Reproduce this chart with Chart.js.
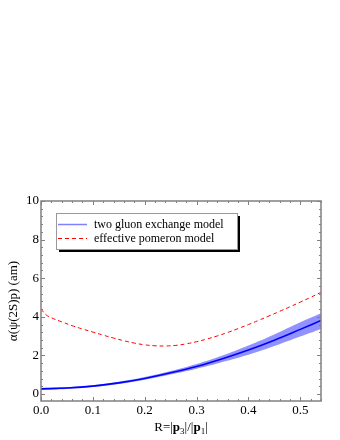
<!DOCTYPE html>
<html>
<head>
<meta charset="utf-8">
<script src="https://cdn.jsdelivr.net/npm/chart.js@4.4.1/dist/chart.umd.min.js"></script>
<style>
  html, body { margin: 0; padding: 0; background: #fff; }
  #wrap { width: 340px; height: 440px; }
</style>
</head>
<body>
<div id="wrap"><canvas id="chart" width="340" height="440"></canvas></div>
<script>
"use strict";

// two gluon exchange model (central curve + uncertainty band)
const gluonR = [0, 0.05, 0.1, 0.15, 0.2, 0.25, 0.3, 0.35, 0.4, 0.45, 0.5, 0.54];
const gluonMid = [0.27, 0.31, 0.41, 0.58, 0.81, 1.1, 1.43, 1.83, 2.28, 2.79, 3.35, 3.81];
const gluonLow = [0.22, 0.26, 0.36, 0.52, 0.74, 1.01, 1.31, 1.66, 2.04, 2.49, 2.98, 3.37];
const gluonHigh = [0.31, 0.36, 0.46, 0.64, 0.88, 1.19, 1.56, 2.0, 2.52, 3.09, 3.72, 4.19];

// effective pomeron model
const pomR = [0, 0.01, 0.02, 0.04, 0.06, 0.08, 0.1, 0.12, 0.14, 0.16, 0.18, 0.2, 0.22, 0.24,
  0.26, 0.28, 0.3, 0.32, 0.34, 0.36, 0.38, 0.4, 0.42, 0.44, 0.46, 0.48, 0.5, 0.52, 0.54];
const pomVal = [4.4, 4.1, 3.95, 3.74, 3.54, 3.37, 3.21, 3.05, 2.9, 2.76, 2.64, 2.55, 2.5, 2.49,
  2.52, 2.6, 2.71, 2.85, 3.01, 3.19, 3.39, 3.6, 3.82, 4.05, 4.28, 4.52, 4.76, 5.01, 5.27];

const xTicks = [0, 0.1, 0.2, 0.3, 0.4, 0.5];
const yTicks = [0, 2, 4, 6, 8, 10];
const xTickLabels = ["0.0", "0.1", "0.2", "0.3", "0.4", "0.5"];

const serif = "'Liberation Serif', 'DejaVu Serif', serif";

function pairs(xs, ys) {
  return xs.map((x, i) => ({ x: x, y: ys[i] }));
}

// frame with inward ticks, legend and axis titles
const framePlugin = {
  id: "frame",
  afterDraw(chart) {
    const ctx = chart.ctx;
    const a = chart.chartArea;
    const xs = chart.scales.x;
    const ys = chart.scales.y;
    ctx.save();
    ctx.strokeStyle = "#808080";
    ctx.lineWidth = 1.5;
    ctx.strokeRect(a.left, a.top, a.right - a.left, a.bottom - a.top);

    ctx.lineWidth = 1;
    ctx.beginPath();
    for (let i = 0; i <= 27; i++) {
      const v = i * 0.02;
      const px = Math.round(xs.getPixelForValue(v)) + 0.5;
      const len = (i % 5 === 0) ? 4 : 2;
      ctx.moveTo(px, a.bottom); ctx.lineTo(px, a.bottom - len);
      ctx.moveTo(px, a.top); ctx.lineTo(px, a.top + len);
    }
    for (let i = 0; i <= 25; i++) {
      const v = i * 0.4;
      const py = Math.round(ys.getPixelForValue(v)) + 0.5;
      const len = (i % 5 === 0) ? 4 : 2;
      ctx.moveTo(a.left, py); ctx.lineTo(a.left + len, py);
      ctx.moveTo(a.right, py); ctx.lineTo(a.right - len, py);
    }
    ctx.stroke();

    // legend box with shadow
    const bx = 56, by = 213, bw = 181, bh = 36;
    ctx.fillStyle = "#000";
    ctx.fillRect(bx + 3, by + 3, bw, bh);
    ctx.fillStyle = "#fff";
    ctx.fillRect(bx, by, bw, bh);
    ctx.strokeStyle = "#999";
    ctx.lineWidth = 1;
    ctx.strokeRect(bx + 0.5, by + 0.5, bw, bh);

    ctx.lineWidth = 1.5;
    ctx.strokeStyle = "#8080ff";
    ctx.beginPath(); ctx.moveTo(58, 224.5); ctx.lineTo(87, 224.5); ctx.stroke();
    ctx.lineWidth = 1;
    ctx.strokeStyle = "#ff0000";
    ctx.setLineDash([4, 3]);
    ctx.beginPath(); ctx.moveTo(58, 238.5); ctx.lineTo(87, 238.5); ctx.stroke();
    ctx.setLineDash([]);

    ctx.fillStyle = "#000";
    ctx.font = "12px " + serif;
    ctx.textBaseline = "middle";
    ctx.textAlign = "left";
    ctx.fillText(chart.data.datasets[2].label, 94, 224.5);
    ctx.fillText(chart.data.datasets[3].label, 94, 238.5);

    // y axis title
    ctx.save();
    ctx.translate(14, (a.top + a.bottom) / 2);
    ctx.rotate(-Math.PI / 2);
    ctx.textAlign = "center";
    ctx.font = "13px " + serif;
    ctx.fillText("\u03b1(\u03c8(2S)p) (am)", 0, 0);
    ctx.restore();

    // x axis title with bold vectors and subscripts
    const parts = [
      ["R=|", "13px " + serif, 0],
      ["p", "bold 13px " + serif, 0],
      ["3", "9px " + serif, 3],
      ["|/|", "13px " + serif, 0],
      ["p", "bold 13px " + serif, 0],
      ["1", "9px " + serif, 3],
      ["|", "13px " + serif, 0]
    ];
    let total = 0;
    parts.forEach(p => { ctx.font = p[1]; total += ctx.measureText(p[0]).width; });
    let cx = (a.left + a.right) / 2 - total / 2;
    ctx.textBaseline = "alphabetic";
    parts.forEach(p => {
      ctx.font = p[1];
      ctx.fillText(p[0], cx, 431 + p[2]);
      cx += ctx.measureText(p[0]).width;
    });
    ctx.restore();
  }
};

new Chart(document.getElementById("chart"), {
  type: "line",
  data: {
    datasets: [
      {
        label: "band low",
        data: pairs(gluonR, gluonLow),
        borderWidth: 0,
        pointRadius: 0,
        fill: false,
        tension: 0.4,
        order: 3
      },
      {
        label: "band high",
        data: pairs(gluonR, gluonHigh),
        borderWidth: 0,
        pointRadius: 0,
        backgroundColor: "rgba(110,110,255,0.75)",
        fill: "-1",
        tension: 0.4,
        order: 2
      },
      {
        label: "two gluon exchange model",
        data: pairs(gluonR, gluonMid),
        borderColor: "#0000ff",
        borderWidth: 1.6,
        pointRadius: 0,
        fill: false,
        tension: 0.4,
        order: 0
      },
      {
        label: "effective pomeron model",
        data: pairs(pomR, pomVal),
        borderColor: "#ff0000",
        borderWidth: 1,
        borderDash: [4, 3],
        pointRadius: 0,
        fill: false,
        tension: 0.4,
        order: 1
      }
    ]
  },
  options: {
    responsive: false,
    animation: false,
    layout: { padding: { top: 201, right: 19, left: 0, bottom: 0 } },
    plugins: {
      legend: { display: false },
      tooltip: { enabled: false }
    },
    scales: {
      x: {
        type: "linear",
        min: 0,
        max: 0.54,
        grid: { display: false, drawTicks: false },
        border: { display: false },
        afterBuildTicks(scale) { scale.ticks = xTicks.map(v => ({ value: v })); },
        afterFit(scale) { scale.height = 39; },
        ticks: {
          padding: 2,
          color: "#000",
          font: { family: serif, size: 13 },
          callback: (v, i) => xTickLabels[i]
        }
      },
      y: {
        type: "linear",
        min: -0.36,
        max: 10,
        grid: { display: false, drawTicks: false },
        border: { display: false },
        afterBuildTicks(scale) { scale.ticks = yTicks.map(v => ({ value: v })); },
        afterFit(scale) { scale.width = 41; },
        ticks: {
          padding: 2,
          color: "#000",
          font: { family: serif, size: 13 }
        }
      }
    }
  },
  plugins: [framePlugin]
});
</script>
</body>
</html>
